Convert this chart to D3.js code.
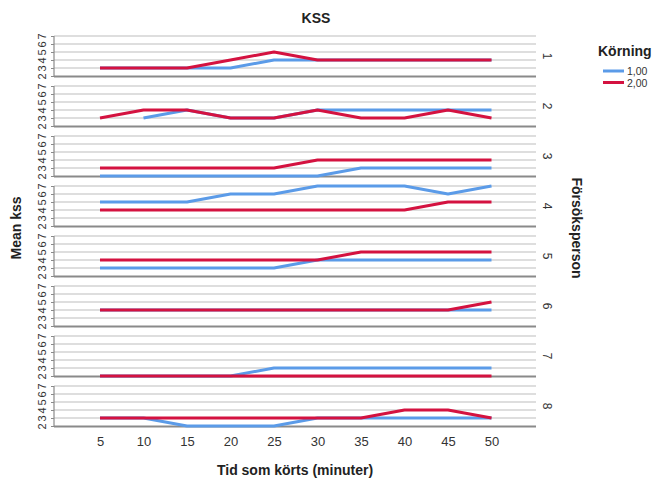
<!DOCTYPE html>
<html>
<head>
<meta charset="utf-8">
<script src="https://cdn.jsdelivr.net/npm/d3@7"></script>
<style>
  html, body { margin: 0; padding: 0; background: #fff; }
  svg { display: block; font-family: "Liberation Sans", Arial, sans-serif; }
</style>
</head>
<body>
<svg id="chart" width="658" height="484"></svg>
<script>
// Time driven (minutes)
const minutes = [5, 10, 15, 20, 25, 30, 35, 40, 45, 50];
const xTicks = [5, 10, 15, 20, 25, 30, 35, 40, 45, 50];
const yTicks = [2, 3, 4, 5, 6, 7];
const persons = ["1", "2", "3", "4", "5", "6", "7", "8"];
const runs = ["1,00", "2,00"];

// Mean KSS per test person, run 1 (null = no value)
const run1 = [
  [3, 3, 3, 3, 4, 4, 4, 4, 4, 4],
  [null, 3, 4, 3, 3, 4, 4, 4, 4, 4],
  [2, 2, 2, 2, 2, 2, 3, 3, 3, 3],
  [5, 5, 5, 6, 6, 7, 7, 7, 6, 7],
  [3, 3, 3, 3, 3, 4, 4, 4, 4, 4],
  [4, 4, 4, 4, 4, 4, 4, 4, 4, 4],
  [2, 2, 2, 2, 3, 3, 3, 3, 3, 3],
  [3, 3, 2, 2, 2, 3, 3, 3, 3, 3]
];

// Mean KSS per test person, run 2
const run2 = [
  [3, 3, 3, 4, 5, 4, 4, 4, 4, 4],
  [3, 4, 4, 3, 3, 4, 3, 3, 4, 3],
  [3, 3, 3, 3, 3, 4, 4, 4, 4, 4],
  [4, 4, 4, 4, 4, 4, 4, 4, 5, 5],
  [4, 4, 4, 4, 4, 4, 5, 5, 5, 5],
  [4, 4, 4, 4, 4, 4, 4, 4, 4, 5],
  [2, 2, 2, 2, 2, 2, 2, 2, 2, 2],
  [3, 3, 3, 3, 3, 3, 3, 4, 4, 3]
];

const colors = ["#5b9be8", "#d41240"];

const svg = d3.select("#chart");
const left = 54, right = 536;
const panelTop = 36, panelH = 40, panelStep = 50;

const x = d3.scaleLinear().domain([0, 55]).range([56.5, 535]);

const gridColor = "#d3d3d3";
const axisColor = "#8a8a8a";
const textColor = "#222";

persons.forEach((p, i) => {
  const top = panelTop + i * panelStep;
  const y = d3.scaleLinear().domain([2, 7]).range([top + panelH, top]);
  const g = svg.append("g");

  // horizontal grid
  g.selectAll("line.grid")
    .data(yTicks.slice(1))
    .join("line")
    .attr("x1", left).attr("x2", right)
    .attr("y1", d => y(d)).attr("y2", d => y(d))
    .attr("stroke", gridColor).attr("stroke-width", 1.5);

  // left axis with rotated tick labels
  const yAxis = d3.axisLeft(y).tickValues(yTicks).tickSize(3).tickFormat(d3.format("d"));
  const ya = g.append("g").attr("transform", `translate(${left},0)`).call(yAxis);
  ya.select(".domain").attr("stroke", axisColor).attr("stroke-width", 1.2)
    .attr("d", `M0,${top}V${top + panelH + 1}`);
  ya.selectAll(".tick line").attr("stroke", axisColor);
  ya.selectAll(".tick text")
    .attr("x", 0).attr("y", 0).attr("dy", null)
    .attr("text-anchor", "middle")
    .attr("transform", "translate(-8,0) rotate(-90)")
    .attr("font-size", 11).attr("fill", "#333");

  // bottom line of the panel
  g.append("line")
    .attr("x1", left).attr("x2", right)
    .attr("y1", top + panelH + 0.5).attr("y2", top + panelH + 0.5)
    .attr("stroke", axisColor).attr("stroke-width", 1.8);

  // series lines
  [run1[i], run2[i]].forEach((vals, k) => {
    const pts = minutes.map((m, j) => [m, vals[j]]);
    const line = d3.line()
      .defined(d => d[1] != null)
      .x(d => x(d[0]))
      .y(d => y(d[1]));
    g.append("path")
      .attr("d", line(pts))
      .attr("fill", "none")
      .attr("stroke", colors[k])
      .attr("stroke-width", 3)
      .attr("stroke-linejoin", "round");
  });

  // facet label
  const cy = top + panelH / 2;
  g.append("text")
    .attr("transform", `translate(547,${cy}) rotate(90)`)
    .attr("text-anchor", "middle")
    .attr("dy", "0.35em")
    .attr("font-size", 12).attr("fill", "#333")
    .text(p);
});

// x axis tick labels
const lastBottom = panelTop + 7 * panelStep + panelH;
const xAxis = d3.axisBottom(x).tickValues(xTicks).tickSize(0).tickPadding(11);
const xa = svg.append("g").attr("transform", `translate(0,${lastBottom})`).call(xAxis);
xa.select(".domain").remove();
xa.selectAll(".tick text").attr("font-size", 13).attr("fill", "#333");

// titles
svg.append("text")
  .attr("x", 316).attr("y", 23)
  .attr("text-anchor", "middle")
  .attr("font-size", 14).attr("font-weight", "bold").attr("fill", textColor)
  .text("KSS");

svg.append("text")
  .attr("x", 295).attr("y", 475)
  .attr("text-anchor", "middle")
  .attr("font-size", 14).attr("font-weight", "bold").attr("fill", textColor)
  .text("Tid som körts (minuter)");

svg.append("text")
  .attr("transform", "translate(21,228) rotate(-90)")
  .attr("text-anchor", "middle")
  .attr("font-size", 14).attr("font-weight", "bold").attr("fill", textColor)
  .text("Mean kss");

svg.append("text")
  .attr("transform", "translate(572,228) rotate(90)")
  .attr("text-anchor", "middle")
  .attr("font-size", 14).attr("font-weight", "bold").attr("fill", textColor)
  .text("Försöksperson");

// legend
const lg = svg.append("g");
lg.append("text")
  .attr("x", 598).attr("y", 56)
  .attr("font-size", 14).attr("font-weight", "bold").attr("fill", textColor)
  .text("Körning");
runs.forEach((r, k) => {
  const ly = 71 + k * 11.5;
  lg.append("line")
    .attr("x1", 603).attr("x2", 624)
    .attr("y1", ly).attr("y2", ly)
    .attr("stroke", colors[k]).attr("stroke-width", 3);
  lg.append("text")
    .attr("x", 627).attr("y", ly + 4)
    .attr("font-size", 10.5).attr("fill", "#333")
    .text(r);
});
</script>
</body>
</html>
